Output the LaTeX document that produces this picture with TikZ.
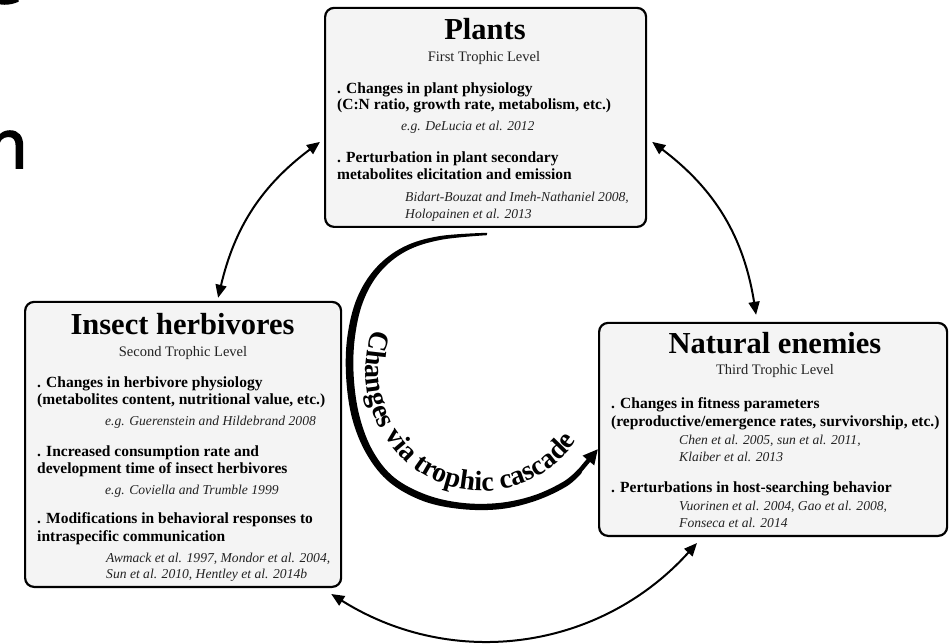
\documentclass[tikz,border=0pt]{standalone}
\usepackage{fontspec}
\setmainfont{Liberation Serif}
\newfontfamily\fragfont{DejaVu Sans}[BoldFont={*}, BoldFeatures={FakeBold=2.5}]
\usetikzlibrary{arrows.meta,decorations.text,calc}
\definecolor{boxfill}{HTML}{F4F4F4}
\definecolor{citecol}{HTML}{222222}
\tikzset{
  levelbox/.style={draw=black, line width=2.2pt, fill=boxfill, rounded corners=9pt, inner sep=0pt, anchor=south west},
  titletext/.style={font=\fontsize{30.5}{32}\selectfont\bfseries, anchor=base, inner sep=0pt},
  subtext/.style={font=\fontsize{14.5}{16}\selectfont, anchor=base, inner sep=0pt, text=citecol},
  itembf/.style={font=\fontsize{15.5}{17}\selectfont\bfseries, anchor=base west, inner sep=0pt},
  citetext/.style={font=\fontsize{13.6}{16}\selectfont\itshape, anchor=base west, inner sep=0pt, text=citecol},
  fragtext/.style={font=\fragfont\bfseries\fontsize{66}{70}\selectfont, anchor=base west, inner sep=0pt},
  linkarrow/.style={line width=2pt, {Triangle[length=13pt,width=11pt]}-{Triangle[length=13pt,width=11pt]}},
}
\begin{document}
\begin{tikzpicture}[x=1pt,y=1pt]
\useasboundingbox (0,0) rectangle (950,643);
% cropped fragments at the left edge
\begin{scope}
\clip (0,0) rectangle (950,643);
\node[fragtext] (fragn) at (-14,475) {n};
\node[fragtext] (frage) at (-18,640) {e};
\end{scope}

% boxes
\node[levelbox, minimum width=321pt, minimum height=219pt] (plants) at (324,415) {};
\node[levelbox, minimum width=316pt, minimum height=285pt] (herb) at (24,55) {};
\node[levelbox, minimum width=348pt, minimum height=213pt] (nat) at (598,106) {};

% Plants
\node[titletext] (ptitle) at (485,603) {Plants};
\node[subtext] (psub) at (484,581) {First Trophic Level};
\node[itembf] (pa1) at (337,549) {. Changes in plant physiology};
\node[itembf] (pa2) at (337,533) {(C:N ratio, growth rate, metabolism, etc.)};
\node[citetext] (pa3) at (401,512) {e.g. DeLucia et al. 2012};
\node[itembf] (pb1) at (337,480) {. Perturbation in plant secondary};
\node[itembf] (pb2) at (337,463) {metabolites elicitation and emission};
\node[citetext] (pb3) at (405,441) {Bidart-Bouzat and Imeh-Nathaniel 2008,};
\node[citetext] (pb4) at (405,424) {Holopainen et al. 2013};

% Insect herbivores
\node[titletext] (htitle) at (182.5,308) {Insect herbivores};
\node[subtext] (hsub) at (183,286) {Second Trophic Level};
\node[itembf] (ha1) at (37,255) {. Changes in herbivore physiology};
\node[itembf] (ha2) at (37,238) {(metabolites content, nutritional value, etc.)};
\node[citetext] (ha3) at (105,217) {e.g. Guerenstein and Hildebrand 2008};
\node[itembf] (hb1) at (37,186) {. Increased consumption rate and};
\node[itembf] (hb2) at (37,170) {development time of insect herbivores};
\node[citetext] (hb3) at (105,149) {e.g. Coviella and Trumble 1999};
\node[itembf] (hc1) at (37,120) {. Modifications in behavioral responses to};
\node[itembf] (hc2) at (37,102) {intraspecific communication};
\node[citetext] (hc3) at (106,81) {Awmack et al. 1997, Mondor et al. 2004,};
\node[citetext] (hc4) at (106,65) {Sun et al. 2010, Hentley et al. 2014b};

% Natural enemies
\node[titletext] (ntitle) at (775,289) {Natural enemies};
\node[subtext] (nsub) at (775,268) {Third Trophic Level};
\node[itembf] (na1) at (611,234) {. Changes in fitness parameters};
\node[itembf] (na2) at (611,216) {(reproductive/emergence rates, survivorship, etc.)};
\node[citetext] (na3) at (679,198) {Chen et al. 2005, sun et al. 2011,};
\node[citetext] (na4) at (679,182) {Klaiber et al. 2013};
\node[itembf] (nb1) at (611,151) {. Perturbations in host-searching behavior};
\node[citetext] (nb2) at (679,133) {Vuorinen et al. 2004, Gao et al. 2008,};
\node[citetext] (nb3) at (679,116) {Fonseca et al. 2014};

% double arrows between levels
\draw[linkarrow] ($(herb.north)+(35,3)$) to[bend left=20] ($(plants.west)+(-4,-24.5)$);
\draw[linkarrow] ($(plants.east)+(5,-24.5)$) to[bend left=22] ($(nat.north)+(-17,7)$);
\draw[linkarrow] ($(herb.south east)+(-11,-6)$) to[bend right=40] ($(nat.south west)+(99,-6)$);

% trophic cascade arc (tapered band)
\fill plot[smooth, tension=0.6] coordinates {(487.1,410.2) (439.5,406.9) (403.8,396.2) (376.0,375.2) (357.0,344.9) (347.3,306.0) (346.2,264.8) (352.4,223.6) (367.2,187.9) (389.9,160.4) (423.6,141.8) (461.5,133.9) (500.5,133.9) (536.2,142.4) (566.7,156.7) (581.8,170.2)}
  -- plot[smooth, tension=0.6] coordinates {(578.2,173.8) (563.3,161.3) (533.8,147.6) (499.5,140.1) (462.5,140.1) (426.4,148.2) (394.1,165.6) (372.8,192.1) (359.6,226.4) (353.8,265.2) (354.7,304.0) (363.0,341.1) (380.0,370.8) (406.0,391.8) (440.5,403.1) (486.9,407.8)} -- cycle;
\coordinate (cascstart) at (578,170);
\coordinate (cascend) at (598,194);
\draw[line width=4.4pt, -{Triangle[length=15pt,width=14pt]}] (cascstart) -- (cascend);

% text along the arc
\path[decorate, decoration={text along path, text align=left,
  text={|\fontsize{28}{30}\selectfont\bfseries|Changes via trophic cascade}}]
  ($(482,272)+(160:116 and 120)$) arc[start angle=160, end angle=345, x radius=116, y radius=120];
\end{tikzpicture}
\end{document}
